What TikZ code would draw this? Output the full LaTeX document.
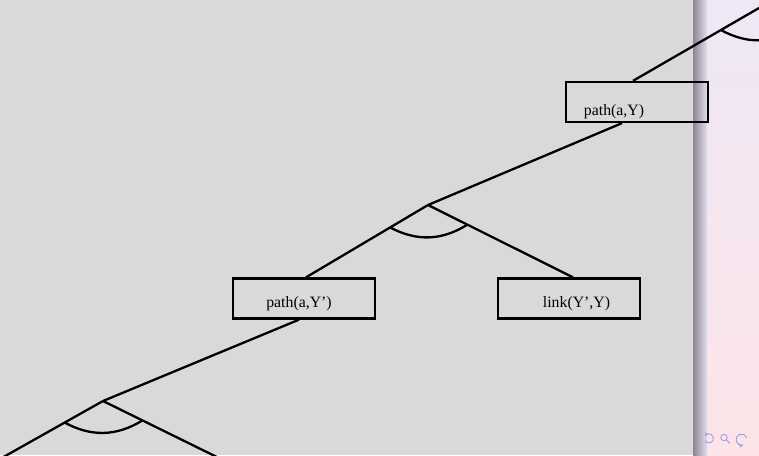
\documentclass[tikz,border=0pt]{standalone}
\usepackage{fontspec}
\setmainfont{Liberation Serif}
\usetikzlibrary{calc}
\definecolor{slidegray}{RGB}{218,216,219}
\definecolor{shadowdark}{RGB}{140,132,146}
\definecolor{shadowlight}{RGB}{228,222,236}
\definecolor{sidetop}{RGB}{238,231,246}
\definecolor{sidebottom}{RGB}{252,228,231}
\definecolor{navblue}{RGB}{158,158,226}
\tikzset{
  goal/.style={draw, line width=2.3pt, minimum width=142pt, minimum height=40pt, inner sep=0pt},
  goaltext/.style={font=\fontsize{15.8}{19}\selectfont, inner sep=0pt},
  edge/.style={line width=2.3pt},
  nav/.style={draw=navblue, line width=0.9pt},
}
\def\andarc(#1)(#2)(#3){\draw[edge] ($(#1)!44pt!(#2)$) to[bend right=30] ($(#1)!44pt!(#3)$);}

\begin{document}
\begin{tikzpicture}[x=1pt,y=-1pt]
  %%%%% background %%%%%
  \fill[slidegray] (0,0) rectangle (694,455);
  \shade[left color=shadowdark, right color=shadowlight] (693,0) rectangle (707,455);
  \shade[top color=sidetop, bottom color=sidebottom] (707,0) rectangle (759,455);
  \useasboundingbox (0,0) rectangle (759,455);
  \clip (0,0) rectangle (759,455);

  %%%%% and-nodes %%%%%
  \coordinate (top) at (759,8);
  \coordinate (mid) at (428,205);
  \coordinate (low) at (103,401);

  %%%%% goals %%%%%
  \node[goal] (pY) at (637,102) {};
  \node[goaltext] (pYtxt) at (614,111.5) {path(a,Y)};

  \node[goal] (pYp) at (304,298.5) {};
  \node[goaltext] (pYptxt) at (299,303.5) {path(a,Y')};

  \node[goal] (lk) at (569,298.5) {};
  \node[goaltext] (lktxt) at (576.5,303.5) {link(Y',Y)};

  % where the edges meet the boxes
  \coordinate (pYin) at ($(pY.north)+(-4,0)$);
  \coordinate (pYout) at ($(pY.south)+(-15,0)$);
  \coordinate (pYpin) at ($(pYp.north)+(2,0)$);
  \coordinate (pYpout) at ($(pYp.south)+(-5,0)$);
  \coordinate (lkin) at ($(lk.north)+(4,0)$);
  \coordinate (topR) at ($(top)+(90,46)$);
  \coordinate (lowL) at ($(low)+(-112,63)$);
  \coordinate (lowR) at ($(low)+(122,60)$);

  %%%%% edges %%%%%
  \draw[edge] (top) -- ++(60,-26);
  \draw[edge] (top) -- (pYin);
  \draw[edge] (top) -- (topR);
  \andarc(top)(pYin)(topR)

  \draw[edge] (pYout) -- (mid);
  \draw[edge] (mid) -- (pYpin);
  \draw[edge] (mid) -- (lkin);
  \andarc(mid)(pYpin)(lkin)

  \draw[edge] (pYpout) -- (low);
  \draw[edge] (low) -- (lowL);
  \draw[edge] (low) -- (lowR);
  \andarc(low)(lowL)(lowR)

  %%%%% navigation symbols %%%%%
  \draw[nav, <-, >=stealth] (709,438.5) ++(-150:4.5) arc[start angle=-150, end angle=150, radius=4.5];
  \draw[nav] (724,437.5) circle (3.2);
  \draw[nav] (726.3,439.8) -- (729.8,443.3);
  \draw[nav, ->, >=stealth] (741.5,439.5) ++(-20:5.5) arc[start angle=-20, end angle=-290, radius=5.5];
\end{tikzpicture}
\end{document}
